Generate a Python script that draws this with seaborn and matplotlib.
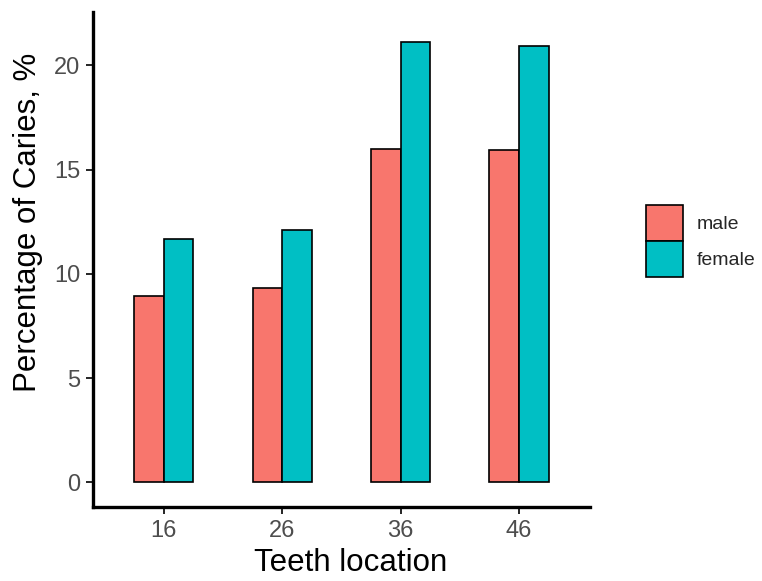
import numpy as np
import pandas as pd
import matplotlib
matplotlib.use("Agg")
import matplotlib.pyplot as plt
import seaborn as sns

# values
teeth = ["16", "26", "36", "46"]
male = [8.96, 9.31, 16.01, 15.92]
female = [11.66, 12.08, 21.14, 20.92]
sexes = ["male", "female"]
colors = ["#F8766D", "#00BFC4"]

df = pd.DataFrame({
    "tooth": teeth * 2,
    "sex": ["male"] * len(teeth) + ["female"] * len(teeth),
    "pct": male + female,
})

sns.set_style("white")
plt.rcParams["font.family"] = ["Liberation Sans", "DejaVu Sans"]

fig = plt.figure(figsize=(7.62, 5.81), dpi=100)
ax = fig.add_axes([0.1217, 0.1268, 0.7743 - 0.1217, 0.979 - 0.1268])

sns.barplot(
    data=df, x="tooth", y="pct", hue="sex", order=teeth, hue_order=sexes,
    palette=colors, width=0.5, edgecolor="black", linewidth=1.2,
    saturation=1, ax=ax,
)

ax.set_xlim(-0.6, 3.6)
ax.set_ylim(-1.2, 22.55)
ax.set_yticks([0, 5, 10, 15, 20])
ax.set_xlabel("Teeth location", fontsize=22.5, color="black")
ax.set_ylabel("Percentage of Caries, %", fontsize=22.5, color="black")
ax.xaxis.set_label_coords(0.519, -0.082)
ax.yaxis.set_label_coords(-0.1, 0.576)
ax.tick_params(axis="both", which="both", direction="out", length=5, width=1.2,
               colors="black", labelsize=17, left=True, bottom=True, pad=4)
for lab in ax.get_xticklabels() + ax.get_yticklabels():
    lab.set_color("#4D4D4D")

for side in ["top", "right"]:
    ax.spines[side].set_visible(False)
for side in ["left", "bottom"]:
    ax.spines[side].set_color("black")
    ax.spines[side].set_linewidth(2.4)

handles, labels = ax.get_legend_handles_labels()
ax.legend(
    handles, labels, loc="center left", bbox_to_anchor=(1.112, 0.538),
    frameon=False, fontsize=14, handlelength=1.94, handleheight=2.5,
    labelspacing=0.0, handletextpad=0.7, borderaxespad=0, borderpad=0,
)

plt.savefig("out.png", dpi=100)
plt.close()
